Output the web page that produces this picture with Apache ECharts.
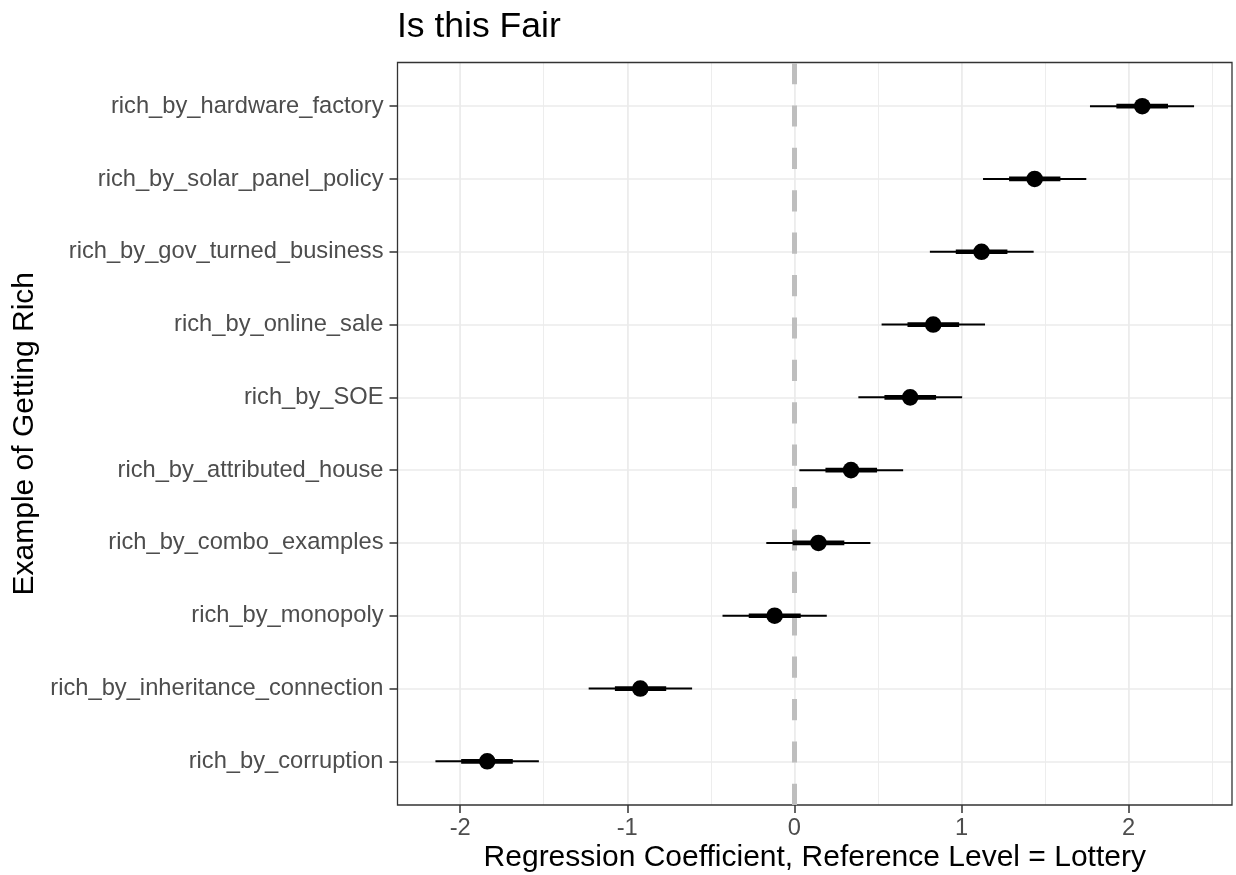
<!DOCTYPE html>
<html>
<head>
<meta charset="utf-8">
<script src="https://cdn.jsdelivr.net/npm/echarts@6/dist/echarts.min.js"></script>
<style>
html,body{margin:0;padding:0;background:#ffffff;}
#chart{width:1236px;height:875px;}
</style>
</head>
<body>
<div id="chart"></div>
<script>
// ---------------- data ----------------
const categories = [
  'rich_by_hardware_factory',
  'rich_by_solar_panel_policy',
  'rich_by_gov_turned_business',
  'rich_by_online_sale',
  'rich_by_SOE',
  'rich_by_attributed_house',
  'rich_by_combo_examples',
  'rich_by_monopoly',
  'rich_by_inheritance_connection',
  'rich_by_corruption'
];
const estimates = [2.082, 1.438, 1.120, 0.831, 0.693, 0.339, 0.144, -0.118, -0.922, -1.838];
const innerLow  = [1.927, 1.285, 0.966, 0.677, 0.539, 0.186, -0.010, -0.273, -1.074, -1.994];
const innerHigh = [2.236, 1.592, 1.275, 0.986, 0.848, 0.495, 0.299, 0.038, -0.767, -1.685];
const outerLow  = [1.769, 1.129, 0.811, 0.522, 0.383, 0.030, -0.168, -0.430, -1.231, -2.148];
const outerHigh = [2.392, 1.747, 1.432, 1.141, 1.004, 0.651, 0.455, 0.194, -0.612, -1.529];
const xTickLabels = ['-2', '-1', '0', '1', '2'];
const referenceValue = 0;
const titleText = 'Is this Fair';
const xTitle = 'Regression Coefficient, Reference Level = Lottery';
const yTitle = 'Example of Getting Rich';

// ---------------- layout ----------------
const W = 1236, H = 875;
const FONT = "'Liberation Sans', Arial, Helvetica, sans-serif";
const panel = { left: 397.5, right: 1232, top: 62.5, bottom: 805 };
const lo = Math.min(...outerLow), hi = Math.max(...outerHigh);
const pad = (hi - lo) * 0.05;
const xMin = lo - pad, xMax = hi + pad;
const ppu = (panel.right - panel.left) / (xMax - xMin);
const xPix = v => panel.left + (v - xMin) * ppu;
const step = (panel.bottom - panel.top) / (categories.length - 1 + 1.2);
const catTop = panel.top + 0.6 * step;
const catBottom = panel.bottom - 0.6 * step;
const majorMin = Number(xTickLabels[0]);
const majorMax = Number(xTickLabels[xTickLabels.length - 1]);
const minorMax = Math.floor(xMax * 2) / 2;

const GRID_COLOR = '#EBEBEB';
const TEXT_GREY = '#4D4D4D';
const AXIS_DARK = '#333333';

const chart = echarts.init(document.getElementById('chart'), null, { renderer: 'canvas' });

const option = {
  backgroundColor: '#ffffff',
  animation: false,
  title: {
    text: titleText,
    left: 397,
    top: 9.7,
    padding: 0,
    textStyle: { fontFamily: FONT, fontSize: 35.5, fontWeight: 'normal', color: '#000', lineHeight: 36 }
  },
  grid: [
    { // panel
      left: panel.left, top: panel.top,
      width: panel.right - panel.left, height: panel.bottom - panel.top,
      show: true, borderColor: AXIS_DARK, borderWidth: 1.3, backgroundColor: 'transparent',
      outerBoundsMode: 'none', containLabel: false, z: 5
    },
    { // major x gridlines + labels
      left: xPix(majorMin), width: xPix(majorMax) - xPix(majorMin),
      top: panel.top, height: panel.bottom - panel.top,
      outerBoundsMode: 'none', containLabel: false
    },
    { // minor x gridlines
      left: xPix(majorMin), width: xPix(minorMax) - xPix(majorMin),
      top: panel.top, height: panel.bottom - panel.top,
      outerBoundsMode: 'none', containLabel: false
    },
    { // categories
      left: panel.left, width: panel.right - panel.left,
      top: catTop, height: catBottom - catTop,
      outerBoundsMode: 'none', containLabel: false
    }
  ],
  xAxis: [
    {
      gridIndex: 0, type: 'value', min: xMin, max: xMax, position: 'bottom',
      axisLine: { show: false, onZero: false }, axisTick: { show: false }, axisLabel: { show: false }, splitLine: { show: false },
      name: xTitle, nameLocation: 'middle', nameGap: 38,
      nameTextStyle: { fontFamily: FONT, fontSize: 30, color: '#000', lineHeight: 30 }
    },
    {
      gridIndex: 1, type: 'value', min: majorMin, max: majorMax, interval: 1, position: 'bottom',
      axisLine: { show: false, onZero: false },
      axisTick: { show: true, length: 8, lineStyle: { color: AXIS_DARK, width: 1.5 } },
      axisLabel: { show: true, margin: 12, fontFamily: FONT, fontSize: 23.7, color: TEXT_GREY, lineHeight: 23.7,
        formatter: v => xTickLabels[Math.round(v - majorMin)] || '' },
      splitLine: { show: true, lineStyle: { color: GRID_COLOR, width: 1.6 } }
    },
    {
      gridIndex: 2, type: 'value', min: majorMin, max: minorMax, interval: 0.5, position: 'bottom',
      axisLine: { show: false, onZero: false }, axisTick: { show: false }, axisLabel: { show: false },
      splitLine: { show: true, lineStyle: { color: GRID_COLOR, width: 0.9 } }
    },
    {
      gridIndex: 3, type: 'value', min: xMin, max: xMax, show: false, axisLine: { onZero: false }
    }
  ],
  yAxis: [
    { gridIndex: 0, type: 'value', min: 0, max: 1, show: false, axisLine: { onZero: false } },
    { gridIndex: 1, type: 'value', min: 0, max: 1, show: false, axisLine: { onZero: false } },
    { gridIndex: 2, type: 'value', min: 0, max: 1, show: false, axisLine: { onZero: false } },
    {
      gridIndex: 3, type: 'category', data: categories, inverse: true, boundaryGap: false, position: 'left',
      axisLine: { show: false, onZero: false },
      axisTick: { show: true, interval: 0, length: 8, lineStyle: { color: AXIS_DARK, width: 1.5 } },
      axisLabel: { show: true, interval: 0, margin: 14, fontFamily: FONT, fontSize: 23.7, color: TEXT_GREY },
      splitLine: { show: true, interval: 0, lineStyle: { color: GRID_COLOR, width: 1.6 } },
      name: yTitle, nameLocation: 'middle', nameGap: 358, nameRotate: 90,
      nameTextStyle: { fontFamily: FONT, fontSize: 30, color: '#000', lineHeight: 30 }
    }
  ],
  series: [
    {
      name: 'reference',
      type: 'line', xAxisIndex: 0, yAxisIndex: 0,
      data: [],
      silent: true,
      markLine: {
        silent: true, symbol: ['none', 'none'], animation: false,
        label: { show: false },
        lineStyle: { color: '#BEBEBE', width: 5, type: [21.2, 21.2] },
        data: [{ xAxis: referenceValue }]
      },
      z: 3
    },
    {
      name: 'coef',
      type: 'custom', xAxisIndex: 3, yAxisIndex: 3,
      data: categories.map((c, i) => [i, outerLow[i], innerLow[i], estimates[i], innerHigh[i], outerHigh[i]]),
      encode: { x: [1, 2, 3, 4, 5], y: 0 },
      renderItem: function (params, api) {
        const yi = api.value(0);
        const a = api.coord([api.value(1), yi]);
        const b = api.coord([api.value(2), yi]);
        const c = api.coord([api.value(3), yi]);
        const d = api.coord([api.value(4), yi]);
        const e = api.coord([api.value(5), yi]);
        return {
          type: 'group',
          children: [
            { type: 'line', shape: { x1: a[0], y1: a[1], x2: e[0], y2: e[1] }, style: { stroke: '#000', lineWidth: 2 } },
            { type: 'line', shape: { x1: b[0], y1: b[1], x2: d[0], y2: d[1] }, style: { stroke: '#000', lineWidth: 4.7 } },
            { type: 'circle', shape: { cx: c[0], cy: c[1], r: 8.3 }, style: { fill: '#000' } }
          ]
        };
      },
      z: 10
    }
  ]
};
chart.setOption(option);
</script>
</body>
</html>
